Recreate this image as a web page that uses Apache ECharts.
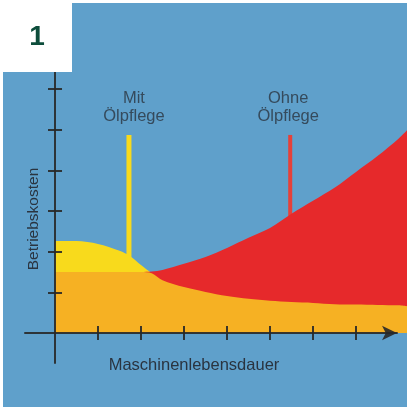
<!DOCTYPE html>
<html>
<head>
<meta charset="utf-8">
<script src="https://cdn.jsdelivr.net/npm/echarts@6/dist/echarts.min.js"></script>
<style>
  html, body { margin: 0; padding: 0; background: #ffffff; }
  #chart { width: 407px; height: 407px; }
</style>
</head>
<body>
<div id="chart"></div>
<script>
// Machine lifetime (x, in tick units) and operating cost (y, in tick units)
const lifetime       = [0, 0.5, 1, 1.5, 1.75, 2, 2.25, 2.5, 3, 3.5, 4, 4.5, 5, 5.5, 6, 6.5, 7, 7.5, 8, 8.19];
const costWithOil    = [2.26, 2.26, 2.19, 2.02, 1.89, 1.67, 1.47, 1.30, 1.13, 1.01, 0.91, 0.84, 0.79, 0.76, 0.74, 0.71, 0.70, 0.69, 0.68, 0.66];
const costWithoutOil = [1.50, 1.50, 1.50, 1.50, 1.50, 1.50, 1.51, 1.55, 1.70, 1.87, 2.09, 2.34, 2.58, 2.93, 3.25, 3.57, 3.96, 4.35, 4.79, 4.99];
// Shared base: where both cost curves overlap
const costShared     = [1.50, 1.50, 1.50, 1.50, 1.50, 1.50, 1.47, 1.30, 1.13, 1.01, 0.91, 0.84, 0.79, 0.76, 0.74, 0.71, 0.70, 0.69, 0.68, 0.66];

// Callout markers
const markerLabels = ['Mit\nÖlpflege', 'Ohne\nÖlpflege'];
const markerX      = [1.72, 5.47];
const markerBase   = [1.6, 2.6];
const markerTop    = [4.87, 4.87];

const tickValues = [1, 2, 3, 4, 5, 6, 7];
const yTickValues = [1, 2, 3, 4, 5, 6];

const panelTitle = '1';
const xName = 'Maschinenlebensdauer';
const yName = 'Betriebskosten';

const BLUE = '#5fa0cb';
const YELLOW = '#f8da1c';
const ORANGE = '#f6b123';
const RED = '#e6292b';
const AXIS = 'rgba(40,40,40,0.9)';
const TEXT = '#2a3440';
const FONT = '"Liberation Sans", Arial, sans-serif';

const pts = arr => lifetime.map((x, i) => [x, arr[i]]);

const chart = echarts.init(document.getElementById('chart'), null, { renderer: 'canvas' });

const areaSeries = (data, color, z) => ({
  type: 'line',
  xAxisIndex: 0, yAxisIndex: 0,
  data: pts(data),
  smooth: 0.3,
  showSymbol: false,
  symbol: 'none',
  lineStyle: { width: 0 },
  areaStyle: { color: color, opacity: 1, origin: 'start' },
  z: z,
  silent: true
});

const markerBar = (i, color, width) => ({
  type: 'line',
  xAxisIndex: 0, yAxisIndex: 0,
  data: [[markerX[i], markerBase[i]], [markerX[i], markerTop[i]]],
  symbol: 'none',
  lineStyle: { color: color, width: width },
  z: 1,
  silent: true
});

const markerLabel = (i, dx) => ({
  type: 'scatter',
  xAxisIndex: 0, yAxisIndex: 0,
  data: [[markerX[i], markerTop[i]]],
  symbolSize: 1,
  itemStyle: { color: 'transparent' },
  label: {
    show: true,
    position: 'top',
    distance: 9,
    offset: [dx, 0],
    formatter: () => markerLabels[i],
    fontFamily: FONT,
    fontSize: 16.5,
    lineHeight: 18,
    color: TEXT,
    align: 'center'
  },
  z: 6,
  silent: true
});

const displayX = (inside) => ({
  type: 'value',
  gridIndex: 1,
  position: 'bottom',
  min: -0.698, max: 7.953,
  axisLine: {
    show: inside,
    onZero: true,
    symbol: ['none', 'arrow'],
    symbolSize: [11, 15],
    lineStyle: { color: AXIS, width: 2 }
  },
  axisTick: { show: true, inside: inside, length: 7, customValues: tickValues, lineStyle: { color: AXIS, width: 2 } },
  axisLabel: { show: false },
  splitLine: { show: false },
  z: 5
});

const displayY = (inside) => ({
  type: 'value',
  gridIndex: 1,
  position: 'left',
  min: -0.738, max: 6.418,
  axisLine: { show: inside, onZero: true, lineStyle: { color: AXIS, width: 2 } },
  axisTick: { show: true, inside: inside, length: 7, customValues: yTickValues, lineStyle: { color: AXIS, width: 2 } },
  axisLabel: { show: false },
  splitLine: { show: false },
  z: 5
});

chart.setOption({
  animation: false,
  backgroundColor: '#ffffff',
  graphic: [
    { type: 'rect', shape: { x: 3, y: 3, width: 404, height: 404 }, style: { fill: BLUE }, z: -10 },
    { type: 'rect', shape: { x: 0, y: 0, width: 72, height: 72 }, style: { fill: '#ffffff' }, z: 100 },
    {
      type: 'text', x: 37, y: 37, z: 101,
      style: { text: panelTitle, fontFamily: FONT, fontWeight: 'bold', fontSize: 28, fill: '#0d4d3b', align: 'center', verticalAlign: 'middle' }
    },
    {
      type: 'text', x: 194, y: 365, z: 101,
      style: { text: xName, fontFamily: FONT, fontSize: 16.5, fill: TEXT, align: 'center', verticalAlign: 'middle' }
    },
    {
      type: 'text', x: 34, y: 219, rotation: Math.PI / 2, z: 101,
      style: { text: yName, fontFamily: FONT, fontSize: 15.5, fill: TEXT, align: 'center', verticalAlign: 'middle' }
    }
  ],
  grid: [
    { left: 55, right: 0, top: 72, bottom: 74, containLabel: false, outerBoundsMode: 'none' },
    { left: 25, right: 10, top: 72, bottom: 44, containLabel: false, outerBoundsMode: 'none' }
  ],
  xAxis: [
    { type: 'value', gridIndex: 0, min: 0, max: 8.186, show: false },
    displayX(true),
    displayX(false)
  ],
  yAxis: [
    { type: 'value', gridIndex: 0, min: 0, max: 6.418, show: false },
    displayY(true),
    displayY(false)
  ],
  series: [
    markerBar(0, YELLOW, 5),
    markerBar(1, '#e5413a', 4),
    areaSeries(costWithOil, YELLOW, 2),
    areaSeries(costWithoutOil, RED, 2),
    areaSeries(costShared, ORANGE, 2),
    markerLabel(0, 5),
    markerLabel(1, -2)
  ]
});
</script>
</body>
</html>
